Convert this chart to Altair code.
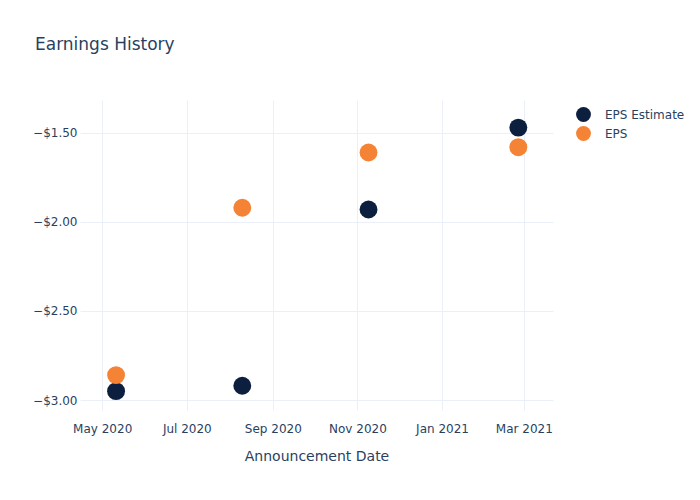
import altair as alt
import pandas as pd

dates = ["2020-05-11T00:00:00", "2020-08-10T00:00:00", "2020-11-09T00:00:00", "2021-02-25T00:00:00"]
eps_estimate = [-2.95, -2.92, -1.93, -1.47]
eps_actual = [-2.86, -1.92, -1.61, -1.58]
series_names = ["EPS Estimate", "EPS"]
colors = ["#0c1f3f", "#f58335"]

rows = []
for d, v in zip(dates, eps_estimate):
    rows.append({"date": d, "value": v, "series": series_names[0]})
for d, v in zip(dates, eps_actual):
    rows.append({"date": d, "value": v, "series": series_names[1]})
df = pd.DataFrame(rows)

FONT = "DejaVu Sans"
TXT = "#2a3f5f"
GRID = "#ebf0f8"

chart = alt.Chart(df).mark_circle(size=320, opacity=1).encode(
    x=alt.X("date:T",
            title="Announcement Date",
            scale=alt.Scale(domain=[alt.DateTime(year=2020, month=4, date=15),
                                    alt.DateTime(year=2021, month=3, date=22)]),
            axis=alt.Axis(format="%b %Y", tickCount={"interval": "month", "step": 2},
                          grid=True, gridColor=GRID, domain=False, ticks=False, tickSize=0,
                          labelPadding=13, titlePadding=15, labelFontSize=12, titleFontSize=14,
                          labelColor=TXT, titleColor=TXT, labelFont=FONT, titleFont=FONT,
                          titleFontWeight="normal", labelFlush=False)),
    y=alt.Y("value:Q",
            title=None,
            scale=alt.Scale(domain=[-3.056, -1.315], nice=False, zero=False),
            axis=alt.Axis(format="$.2f", values=[-3.0, -2.5, -2.0, -1.5],
                          grid=True, gridColor=GRID, domain=False, ticks=False, tickSize=0,
                          labelPadding=3, labelFontSize=12, labelColor=TXT, labelFont=FONT)),
    color=alt.Color("series:N",
                    scale=alt.Scale(domain=series_names, range=colors),
                    legend=alt.Legend(title=None, orient="none", legendX=495, legendY=6,
                                      symbolType="circle", symbolSize=220, symbolOpacity=1,
                                      labelFontSize=12, labelColor=TXT, labelFont=FONT,
                                      rowPadding=3, labelOffset=13, padding=0)),
    order=alt.Order("series:N", sort="descending"),
).properties(
    width=473,
    height=310,
    autosize=alt.AutoSizeParams(type="none"),
    padding={"left": 80, "top": 100, "right": 147, "bottom": 90},
    title=alt.TitleParams("Earnings History", anchor="start", frame="group", dx=-45,
                          offset=46, fontSize=17, font=FONT, color=TXT, fontWeight="normal"),
).configure(background="white", view={"stroke": "transparent", "strokeWidth": 0})

chart.save("out.html", embed_options={"renderer": "svg", "actions": False})
